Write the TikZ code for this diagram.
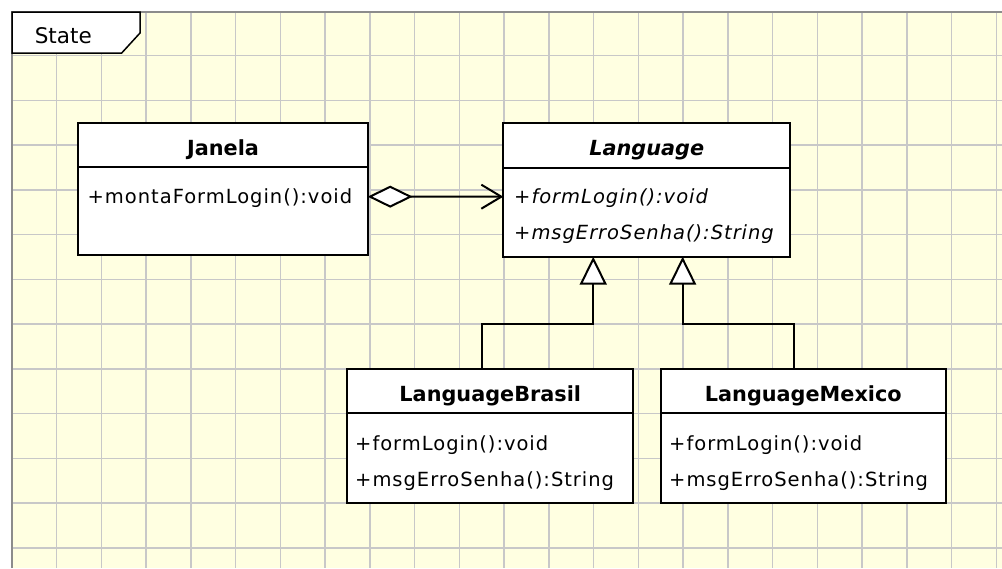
\documentclass[tikz,border=0pt]{standalone}
\usepackage{fontspec}
\setmainfont{DejaVu Sans}
\newfontfamily\itemfam[LetterSpace=5]{DejaVu Sans}
\usetikzlibrary{arrows.meta,calc}

\definecolor{paper}{RGB}{255,255,225}
\definecolor{gridgray}{RGB}{200,200,200}
\definecolor{framegray}{RGB}{140,140,140}

\newcommand\itemfont{\itemfam\fontsize{19.5}{22}\selectfont}
\newcommand\titlefont{\fontsize{20.8}{22}\selectfont\bfseries}

\begin{document}
\begin{tikzpicture}[x=1pt,y=-1pt,
  gridline/.style={draw=gridgray, line width=1.5pt},
  classbox/.style={draw=black, fill=white, line width=2pt, rectangle, inner sep=0pt, outer sep=0pt, anchor=north west},
  divider/.style={draw=black, line width=2pt},
  classtitle/.style={anchor=base, inner sep=0pt, font=\titlefont},
  member/.style={anchor=base west, inner sep=0pt, font=\itemfont},
  assoc/.style={draw=black, line width=2pt,
    {Diamond[fill=white, length=45pt, width=22pt]}-{Straight Barb[length=20pt, width=24pt]}},
  realize/.style={draw=black, line width=2pt, -{Triangle[fill=white, length=28pt, width=27pt]}}
]
\useasboundingbox (0,0) rectangle (1002,568);

% drawing sheet with grid
\fill[white] (0,0) rectangle (1002,568);
\fill[paper] (12,12) rectangle (1002,568);
\foreach \i in {0,...,21}
  \draw[gridline] ({56.7+44.75*\i},12) -- ({56.7+44.75*\i},568);
\foreach \j in {0,...,11}
  \draw[gridline] (12,{55.7+44.75*\j}) -- (1002,{55.7+44.75*\j});
\draw[framegray, line width=2pt] (12,568) -- (12,12) -- (1002,12);

% diagram name tab
\draw[fill=white, line width=1.5pt] (12,12) -- (140,12) -- (140,33) -- (121.7,53) -- (12,53) -- cycle;
\node[anchor=base, inner sep=0pt, font=\fontsize{21.5}{22}\selectfont] (statelabel) at (63.3,43.3) {State};

% class Janela
\node[classbox, minimum width=289.4pt, minimum height=131.7pt] (janela) at (78.3,123.3) {};
\draw[divider] (78.3,167.3) -- (367.7,167.3);
\node[classtitle] (janelaname) at (223,155) {Janela};
\node[member] (janelaop) at (87.5,203.3) {+montaFormLogin():void};

% abstract class Language
\node[classbox, minimum width=286.7pt, minimum height=133.4pt] (lang) at (503.3,123.3) {};
\draw[divider] (503.3,168.3) -- (790,168.3);
\node[classtitle, font=\titlefont\itshape] (langname) at (646.7,155) {Language};
\node[member, font=\itemfont\itshape] (langop1) at (514,203.3) {+formLogin():void};
\node[member, font=\itemfont\itshape] (langop2) at (514,239.3) {+msgErroSenha():String};

% class LanguageBrasil
\node[classbox, minimum width=286pt, minimum height=134pt] (brasil) at (347.3,368.5) {};
\draw[divider] (347.3,413.3) -- (633.3,413.3);
\node[classtitle] (brasilname) at (490.3,401.7) {LanguageBrasil};
\node[member] (brasilop1) at (355,450) {+formLogin():void};
\node[member] (brasilop2) at (355,486) {+msgErroSenha():String};

% class LanguageMexico
\node[classbox, minimum width=285.3pt, minimum height=134pt] (mexico) at (660.7,368.5) {};
\draw[divider] (660.7,413.3) -- (946,413.3);
\node[classtitle] (mexiconame) at (803.3,401.7) {LanguageMexico};
\node[member] (mexicoop1) at (669,450) {+formLogin():void};
\node[member] (mexicoop2) at (669,486) {+msgErroSenha():String};

% aggregation Janela -> Language
\draw[assoc] ([yshift=-7.5pt]janela.east) -- ([yshift=-6.7pt]lang.west);

% generalisations
\draw[realize] ([xshift=-8.6pt]brasil.north) -- ++(0,-44.5) -| ([xshift=-53.4pt]lang.south);
\draw[realize] ([xshift=-9pt]mexico.north) -- ++(0,-44.5) -| ([xshift=36pt]lang.south);
\end{tikzpicture}
\end{document}
